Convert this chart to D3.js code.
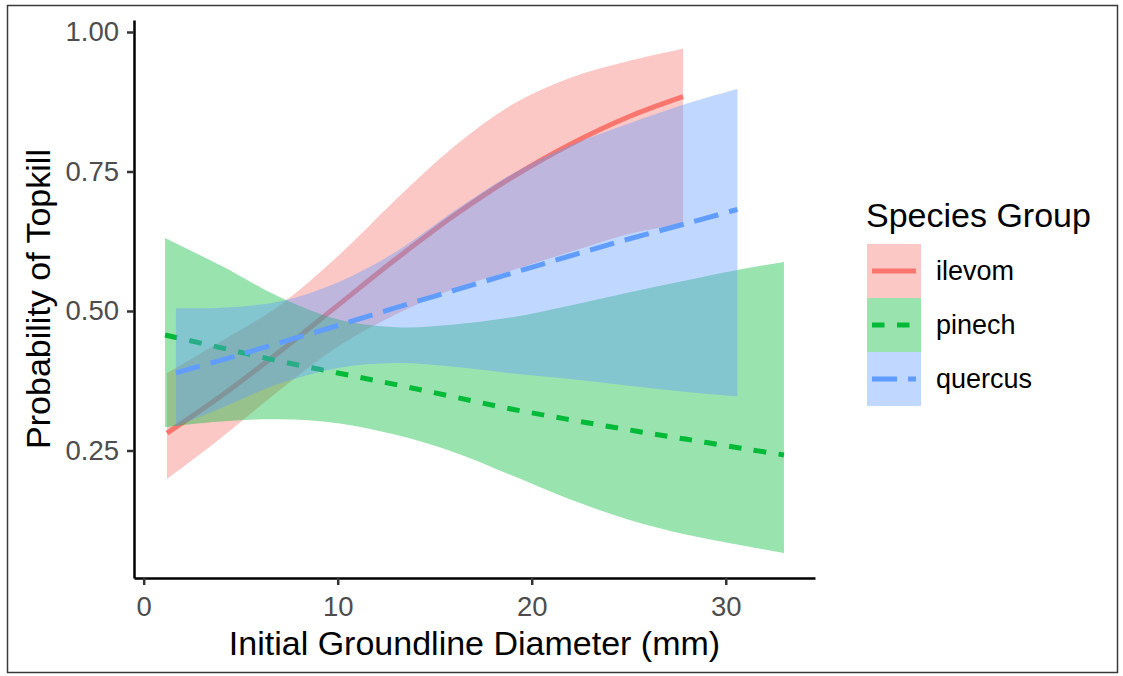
<!DOCTYPE html>
<html>
<head>
<meta charset="utf-8">
<script src="https://cdn.jsdelivr.net/npm/d3@7"></script>
<style>
  html, body { margin: 0; padding: 0; background: #fff; }
  svg text { font-family: "Liberation Sans", Arial, Helvetica, sans-serif; }
</style>
</head>
<body>
<svg id="chart" width="1123" height="676"></svg>
<script>
// Species groups and their colours
const speciesGroups = ["ilevom", "pinech", "quercus"];
const groupColors = ["#F8766D", "#00BA38", "#619CFF"];
const groupDashes = [null, "12.5,12.5", "25,11"];

// Fitted probability of topkill with confidence band, by initial groundline diameter (mm)
const diameterIlevom = [1.2, 4, 7, 10, 13, 16, 19, 22, 25, 27.8];
const fitIlevom      = [0.281, 0.348, 0.427, 0.510, 0.593, 0.671, 0.740, 0.799, 0.848, 0.884];
const lowerIlevom    = [0.199, 0.273, 0.358, 0.436, 0.494, 0.540, 0.573, 0.606, 0.638, 0.656];
const upperIlevom    = [0.389, 0.446, 0.510, 0.598, 0.700, 0.795, 0.870, 0.918, 0.948, 0.970];

const diameterPinech = [1.1, 4, 7, 10, 13, 16, 19, 22, 25, 28, 31, 33];
const fitPinech      = [0.457, 0.434, 0.410, 0.389, 0.368, 0.346, 0.324, 0.305, 0.287, 0.270, 0.253, 0.242];
const lowerPinech    = [0.292, 0.302, 0.306, 0.299, 0.278, 0.247, 0.205, 0.162, 0.126, 0.099, 0.079, 0.066];
const upperPinech    = [0.631, 0.581, 0.525, 0.485, 0.471, 0.476, 0.489, 0.510, 0.533, 0.555, 0.576, 0.588];

const diameterQuercus = [1.66, 4, 7, 10, 13, 16, 19, 22, 25, 28, 30.6];
const fitQuercus      = [0.389, 0.412, 0.443, 0.474, 0.506, 0.537, 0.568, 0.599, 0.629, 0.657, 0.682];
const lowerQuercus    = [0.293, 0.326, 0.370, 0.398, 0.407, 0.400, 0.388, 0.378, 0.366, 0.355, 0.347];
const upperQuercus    = [0.505, 0.506, 0.517, 0.551, 0.606, 0.679, 0.746, 0.797, 0.836, 0.872, 0.898];

// Axis ticks
const xTicks = [0, 10, 20, 30];
const yTicks = [0.25, 0.50, 0.75, 1.00];

const seriesX = [diameterIlevom, diameterPinech, diameterQuercus];
const seriesFit = [fitIlevom, fitPinech, fitQuercus];
const seriesLower = [lowerIlevom, lowerPinech, lowerQuercus];
const seriesUpper = [upperIlevom, upperPinech, upperQuercus];

const svg = d3.select("#chart");

// Outer frame
svg.append("rect")
  .attr("x", 7.5).attr("y", 5.5)
  .attr("width", 1110).attr("height", 667)
  .attr("fill", "none").attr("stroke", "#3a3a3a").attr("stroke-width", 1.5);

const panel = { left: 134, right: 815, top: 20, bottom: 578 };

const x = d3.scaleLinear().domain([-0.5, 34.6]).range([panel.left, panel.right]);
const y = d3.scaleLinear().domain([0.0215, 1.0215]).range([panel.bottom, panel.top]);

const series = speciesGroups.map((name, i) => ({
  name,
  color: groupColors[i],
  dash: groupDashes[i],
  points: seriesX[i].map((d, j) => ({
    d, fit: seriesFit[i][j], lo: seriesLower[i][j], hi: seriesUpper[i][j]
  }))
}));

const smooth = d3.curveCatmullRom.alpha(0.5);

const area = d3.area()
  .x(p => x(p.d))
  .y0(p => y(p.lo))
  .y1(p => y(p.hi))
  .curve(smooth);

const line = d3.line()
  .x(p => x(p.d))
  .y(p => y(p.fit))
  .curve(smooth);

// Each group: band first, then its fitted line
const plot = svg.append("g");
series.forEach(s => {
  plot.append("path")
    .attr("d", area(s.points))
    .attr("fill", s.color)
    .attr("fill-opacity", 0.4);
  plot.append("path")
    .attr("d", line(s.points))
    .attr("fill", "none")
    .attr("stroke", s.color)
    .attr("stroke-width", 5)
    .attr("stroke-dasharray", s.dash);
});

// Axes
const xAxis = svg.append("g")
  .attr("transform", `translate(0,${panel.bottom})`)
  .call(d3.axisBottom(x).tickValues(xTicks).tickSize(7).tickSizeOuter(0).tickPadding(11));

const yAxis = svg.append("g")
  .attr("transform", `translate(${panel.left},0)`)
  .call(d3.axisLeft(y).tickValues(yTicks).tickFormat(d3.format(".2f")).tickSize(7).tickSizeOuter(0).tickPadding(8));

[xAxis, yAxis].forEach(ax => {
  ax.select(".domain").attr("stroke", "#000").attr("stroke-width", 2.5);
  ax.selectAll(".tick line").attr("stroke", "#333").attr("stroke-width", 2.5);
  ax.selectAll(".tick text")
    .attr("fill", "#4D4D4D")
    .style("font-size", "27.5px")
    .style("font-family", "'Liberation Sans', Arial, sans-serif");
});

// Axis titles
svg.append("text")
  .attr("x", (panel.left + panel.right) / 2)
  .attr("y", 655)
  .attr("text-anchor", "middle")
  .style("font-size", "34px")
  .attr("fill", "#000")
  .text("Initial Groundline Diameter (mm)");

svg.append("text")
  .attr("transform", `translate(50,${(panel.top + panel.bottom) / 2}) rotate(-90)`)
  .attr("text-anchor", "middle")
  .style("font-size", "34px")
  .attr("fill", "#000")
  .text("Probability of Topkill");

// Legend
const legend = svg.append("g").attr("transform", "translate(866,0)");
legend.append("text")
  .attr("x", 0).attr("y", 227)
  .style("font-size", "34px")
  .attr("fill", "#000")
  .text("Species Group");

const keySize = 54;
series.forEach((s, i) => {
  const top = 244 + i * keySize;
  const g = legend.append("g").attr("transform", `translate(1,${top})`);
  g.append("rect")
    .attr("width", keySize).attr("height", keySize)
    .attr("fill", s.color).attr("fill-opacity", 0.4);
  g.append("line")
    .attr("x1", 5).attr("x2", keySize - 5)
    .attr("y1", keySize / 2).attr("y2", keySize / 2)
    .attr("stroke", s.color).attr("stroke-width", 5)
    .attr("stroke-dasharray", s.dash);
  legend.append("text")
    .attr("x", 70).attr("y", top + keySize / 2 + 9)
    .style("font-size", "27px")
    .attr("fill", "#000")
    .text(s.name);
});
</script>
</body>
</html>
